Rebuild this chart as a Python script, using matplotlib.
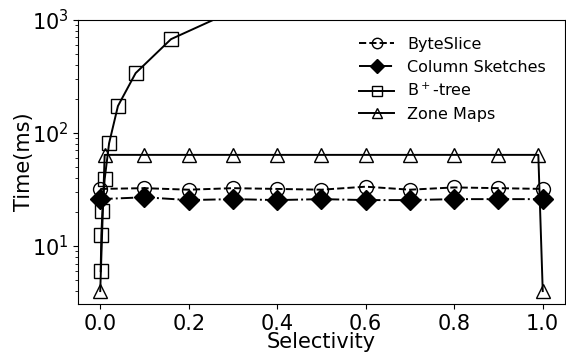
import matplotlib
matplotlib.use("Agg")
import matplotlib.pyplot as plt

# selectivity points
sel_grid = [0.0, 0.1, 0.2, 0.3, 0.4, 0.5, 0.6, 0.7, 0.8, 0.9, 1.0]
byteslice = [32, 32.5, 31.5, 32.5, 32, 31.5, 33.5, 31.5, 33, 32.5, 32]
col_sketches = [26, 27, 25.5, 26, 25.5, 26, 25.5, 25.5, 26, 26, 26]

btree_sel = [0.001, 0.0025, 0.005, 0.01, 0.02, 0.04, 0.08, 0.16, 0.32, 0.64, 1.0]
btree = [6, 12.5, 20.5, 39, 81, 173, 338, 675, 1300, 2600, 4000]

zone_sel = [0.0, 0.01, 0.1, 0.2, 0.3, 0.4, 0.5, 0.6, 0.7, 0.8, 0.9, 0.99, 1.0]
zone_maps = [4, 64, 64, 64, 64, 64, 64, 64, 64, 64, 64, 64, 4]

fig = plt.figure(figsize=(5.66, 3.54), dpi=100)
ax = fig.add_axes([0.138, 0.141, 0.860, 0.803])

mk = dict(markersize=10, color="black", linewidth=1.4, markeredgewidth=1.0)
ax.plot(sel_grid, byteslice, "--", marker="o", fillstyle="none",
        label="ByteSlice", **mk)
ax.plot(sel_grid, col_sketches, "-.", marker="D", markerfacecolor="black",
        label="Column Sketches", **mk)
ax.plot(btree_sel, btree, "-", marker="s", fillstyle="none",
        label="B$^+$-tree", **mk)
ax.plot(zone_sel, zone_maps, "-", marker="^", fillstyle="none",
        label="Zone Maps", **mk)

ax.set_yscale("log")
ax.set_ylim(3.07, 1000)
ax.set_xlim(-0.05, 1.05)
ax.set_xticks([0.0, 0.2, 0.4, 0.6, 0.8, 1.0])
ax.tick_params(axis="both", which="major", labelsize=15)
ax.set_xlabel("Selectivity", fontsize=15, labelpad=-1)
ax.set_ylabel("Time(ms)", fontsize=15, labelpad=-2)

ax.legend(loc="upper right", frameon=False, fontsize=11.5, markerscale=0.75,
          bbox_to_anchor=(0.99, 0.99), labelspacing=0.47, handletextpad=0.8,
          handlelength=2.2)

fig.savefig("out.png", dpi=100)
